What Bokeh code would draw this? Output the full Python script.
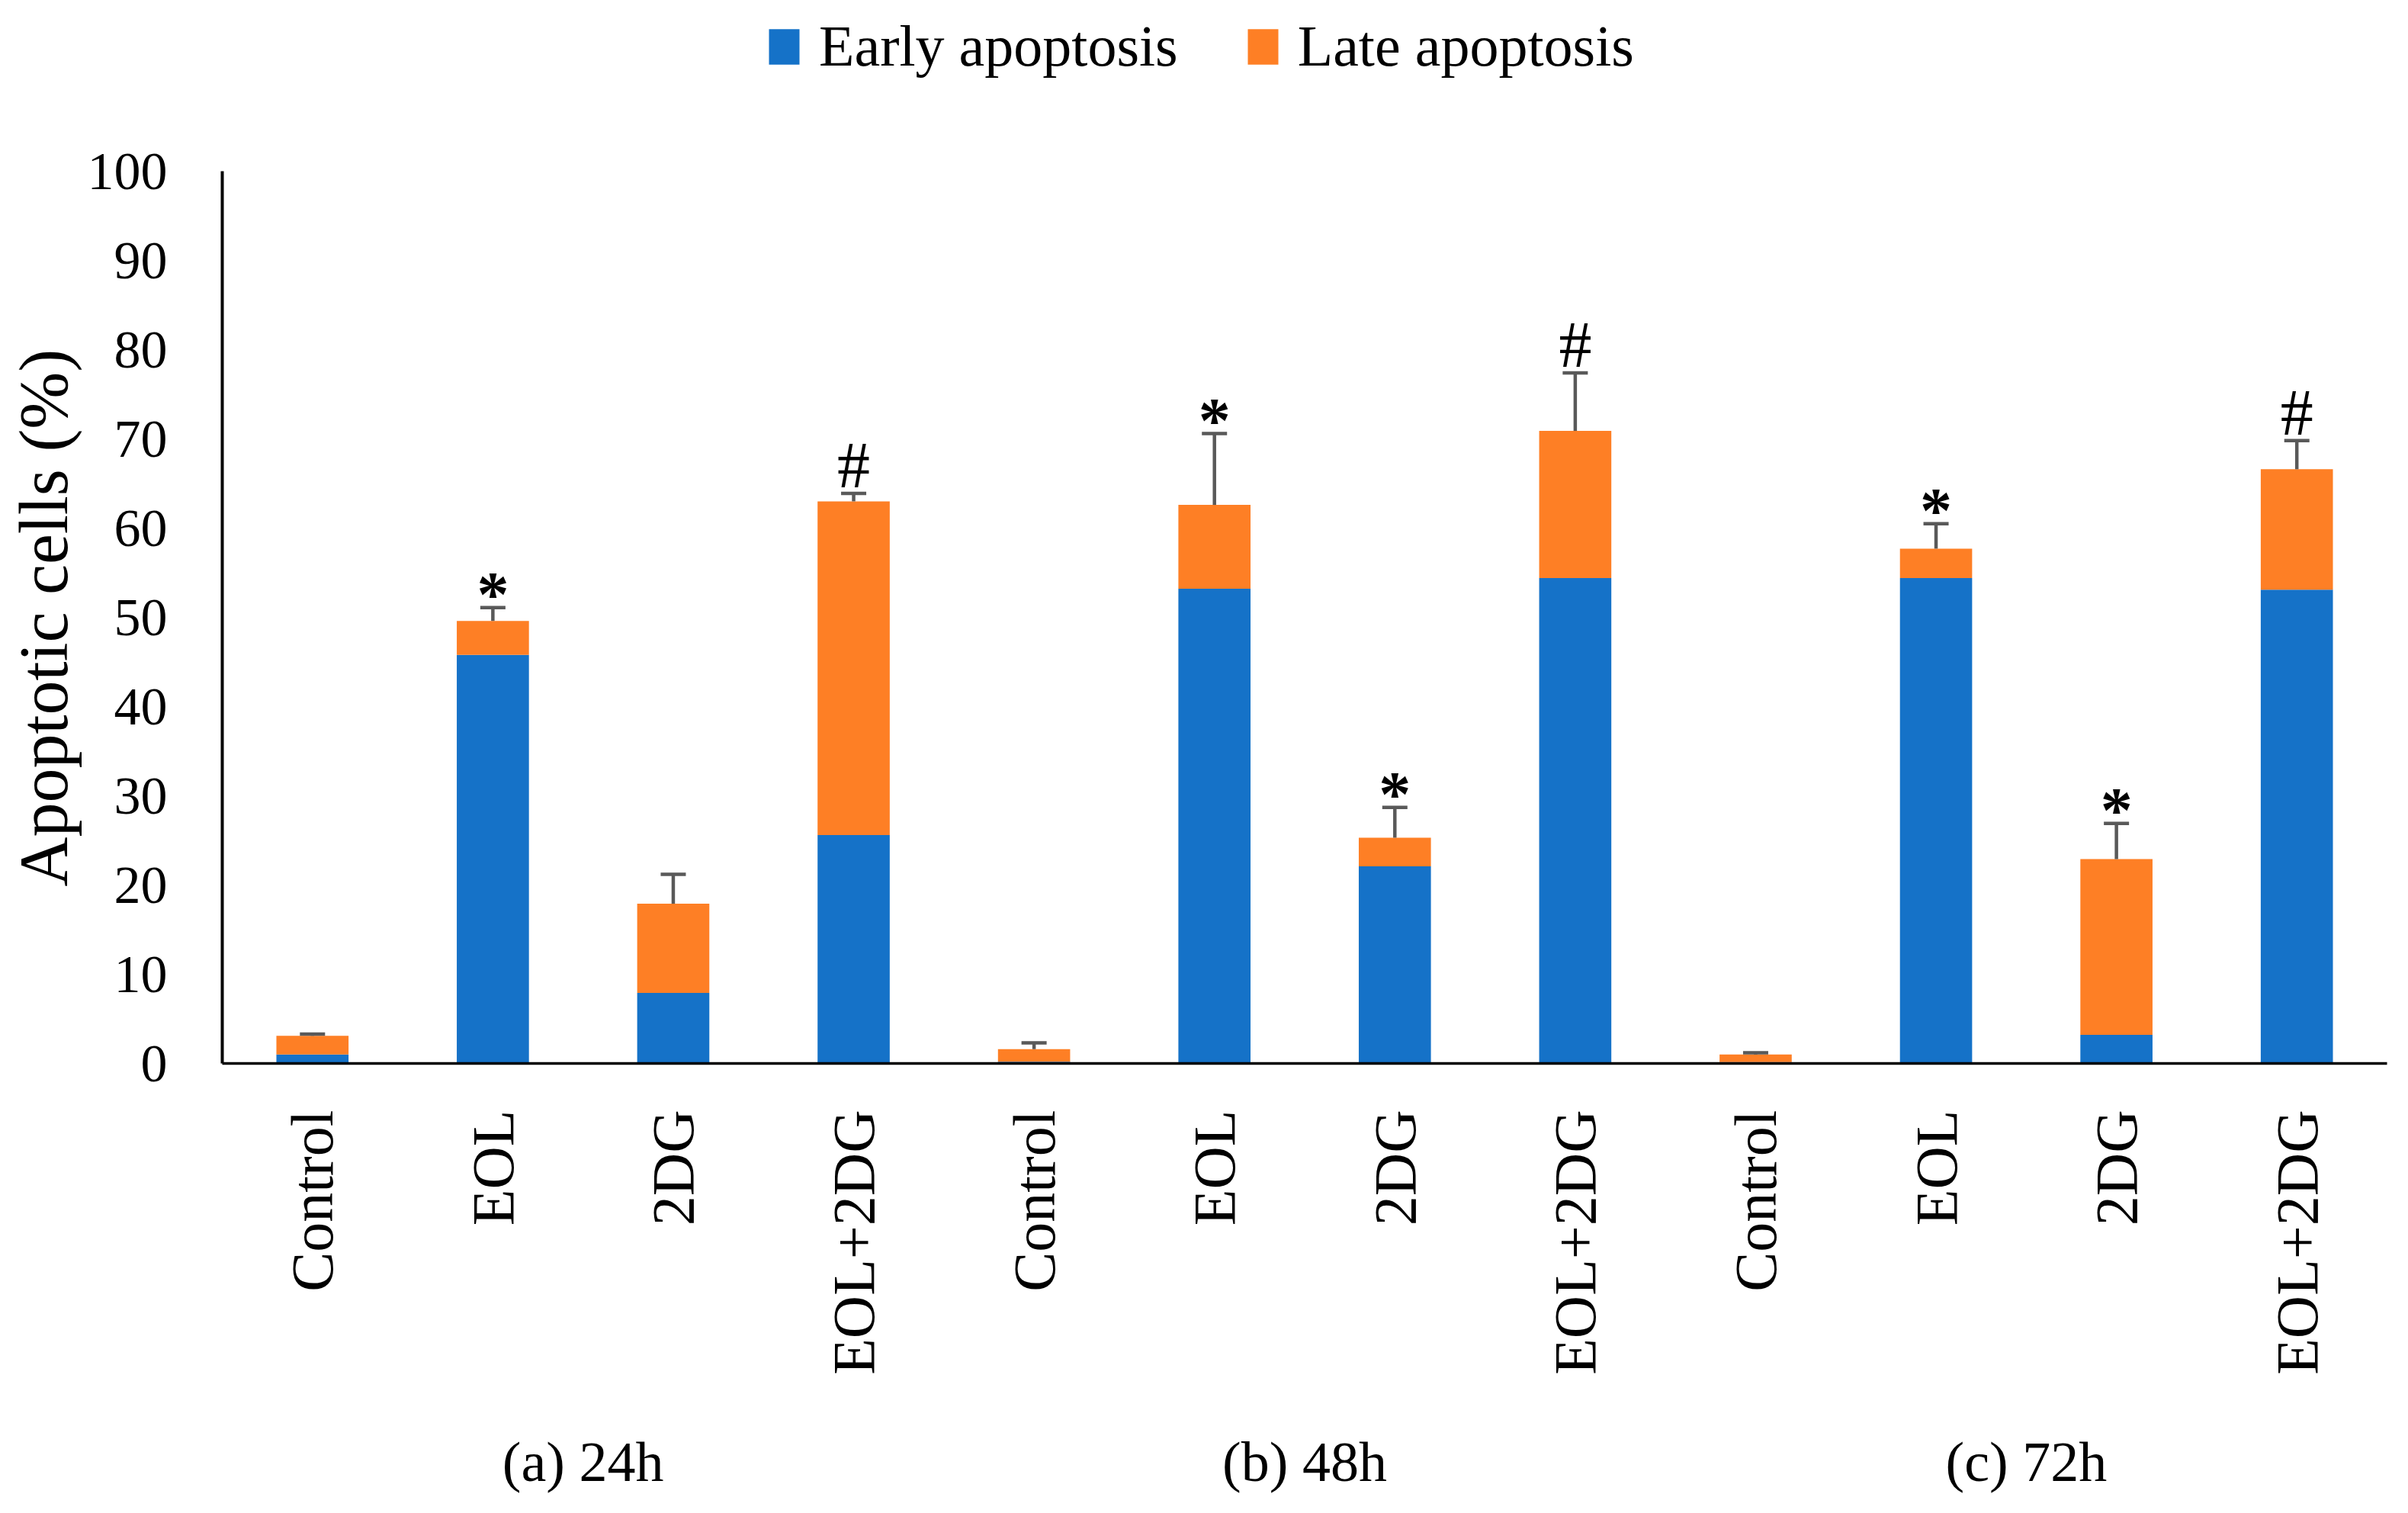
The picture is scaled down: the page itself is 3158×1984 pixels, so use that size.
import math
from bokeh.plotting import figure
from bokeh.models import (Range1d, FixedTicker, LinearAxis, Whisker, TeeHead,
                          ColumnDataSource, Title)
from bokeh.embed import file_html
from bokeh.resources import INLINE
from bokeh.core.properties import value

# ---- data ----
categories = ["Control", "EOL", "2DG", "EOL+2DG"] * 3
groups = ["(a) 24h", "(b) 48h", "(c) 72h"]
early = [1.0, 45.8, 7.9, 25.6, 0.2, 53.2, 22.1, 54.4, 0.15, 54.4, 3.2, 53.1]
late = [2.1, 3.8, 10.0, 37.4, 1.4, 9.4, 3.2, 16.5, 0.85, 3.3, 19.7, 13.5]
err = [0.2, 1.5, 3.3, 0.9, 0.7, 8.0, 3.4, 6.5, 0.2, 2.8, 4.0, 3.2]
marks = ["", "*", "", "#", "", "*", "*", "#", "", "*", "*", "#"]
y_ticks = [0, 10, 20, 30, 40, 50, 60, 70, 80, 90, 100]

BLUE = "#1572C8"
ORANGE = "#FE7F25"
FONT = "Liberation Serif"

n = len(categories)
xs = [i + 0.5 for i in range(n)]
total = [e + l for e, l in zip(early, late)]
upper = [t + d for t, d in zip(total, err)]
group_pos = [sum(xs[4 * g:4 * g + 4]) / 4 for g in range(len(groups))]

src = ColumnDataSource(dict(x=xs, early=early, late=late, total=total, upper=upper,
                            mark=marks, cat=categories))

# frame runs to the top of the canvas so the legend can sit inside it;
# the y axis itself is bounded to 0..100
p = figure(width=3142, height=1968, output_backend="svg", toolbar_location=None,
           x_range=Range1d(0, n), y_range=Range1d(0, 119.15),
           min_border_left=288, min_border_right=12, min_border_top=0,
           min_border_bottom=574)
p.outline_line_color = None
p.xgrid.visible = False
p.ygrid.visible = False
p.background_fill_color = "white"

p.vbar_stack(["early", "late"], x="x", width=0.4, color=[BLUE, ORANGE], source=src,
             legend_label=["Early apoptosis", "Late apoptosis"], line_width=0)

wh = Whisker(base="x", lower="total", upper="upper", source=src,
             line_color="#595959", line_width=4.5, lower_head=None,
             upper_head=TeeHead(size=33, line_color="#595959", line_width=4.5),
             level="glyph")
p.add_layout(wh)

star_idx = [i for i, m in enumerate(marks) if m == "*"]
hash_idx = [i for i, m in enumerate(marks) if m == "#"]
star_src = ColumnDataSource(dict(x=[xs[i] for i in star_idx], y=[upper[i] for i in star_idx],
                                 t=[marks[i] for i in star_idx]))
hash_src = ColumnDataSource(dict(x=[xs[i] for i in hash_idx], y=[upper[i] for i in hash_idx],
                                 t=[marks[i] for i in hash_idx]))
p.text(x="x", y="y", text="t", source=star_src, text_font=value(FONT),
       text_font_size="84px", text_font_style="bold", text_align="center",
       text_baseline="alphabetic", y_offset=-17, text_color="black")
p.text(x="x", y="y", text="t", source=hash_src, text_font=value(FONT),
       text_font_size="86px", text_align="center", text_baseline="alphabetic",
       y_offset=-37, text_color="black")

# y axis
ya = p.yaxis[0]
ya.ticker = FixedTicker(ticks=y_ticks)
ya.bounds = (0, 100)
ya.axis_line_width = 4
ya.axis_line_color = "black"
ya.major_tick_line_color = None
ya.minor_tick_line_color = None
ya.major_tick_out = 0
ya.major_label_standoff = 72
ya.major_label_text_font = FONT
ya.major_label_text_font_size = "70px"
ya.major_label_text_color = "black"

# y axis title (as a left-side title so it can be centred on the 0..100 span)
yt = Title(text="Apoptotic cells (%)", align="left", offset=232, standoff=10,
           text_font=FONT, text_font_size="90px", text_font_style="normal",
           text_color="black")
p.add_layout(yt, "left")

# x axis (categories)
xa = p.xaxis[0]
xa.ticker = FixedTicker(ticks=xs)
xa.major_label_overrides = {x: c for x, c in zip(xs, categories)}
xa.major_label_orientation = math.pi / 2
xa.axis_line_width = 3.5
xa.axis_line_color = "black"
xa.major_tick_line_color = None
xa.minor_tick_line_color = None
xa.major_tick_out = 0
xa.major_label_standoff = 61
xa.major_label_text_font = FONT
xa.major_label_text_font_size = "78px"
xa.major_label_text_color = "black"

# group axis
ga = LinearAxis(ticker=FixedTicker(ticks=group_pos),
                major_label_overrides={g: t for g, t in zip(group_pos, groups)})
ga.axis_line_color = None
ga.major_tick_line_color = None
ga.minor_tick_line_color = None
ga.major_tick_out = 0
ga.major_label_standoff = 70
ga.major_label_text_font = FONT
ga.major_label_text_font_size = "74px"
ga.major_label_text_color = "black"
p.add_layout(ga, "below")

# legend
lg = p.legend[0]
lg.orientation = "horizontal"
lg.location = (712, 1290)
lg.border_line_color = None
lg.background_fill_alpha = 0
lg.label_text_font = FONT
lg.label_text_font_size = "76px"
lg.label_text_color = "black"
lg.glyph_width = 50
lg.glyph_height = 58
lg.label_standoff = 21
lg.spacing = 86
lg.padding = 0
lg.margin = 0

open("out.html", "w").write(file_html(p, INLINE))
